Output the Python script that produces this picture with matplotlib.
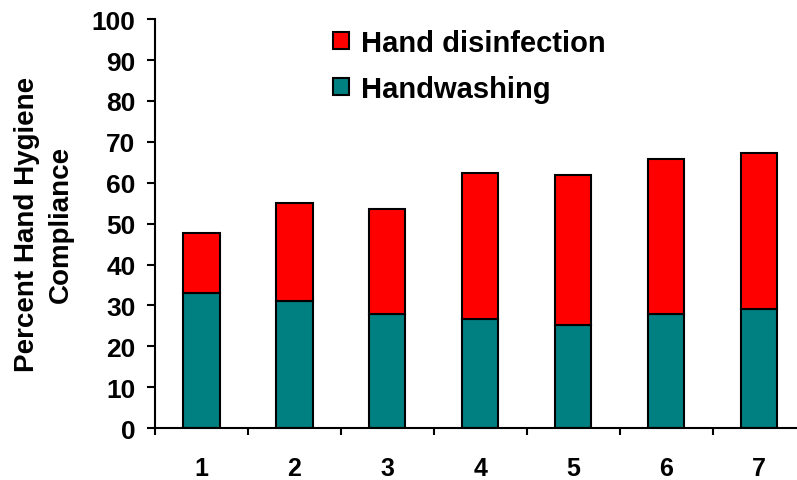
import numpy as np
import matplotlib
matplotlib.use('Agg')
from matplotlib import pyplot as plt

plt.rcParams['font.family'] = ['Liberation Sans', 'DejaVu Sans']

periods = [1, 2, 3, 4, 5, 6, 7]
handwashing = [33.0, 31.0, 28.0, 26.6, 25.2, 28.0, 29.1]
total = [47.7, 55.0, 53.5, 62.3, 61.9, 65.8, 67.2]
disinfection = [t - w for t, w in zip(total, handwashing)]

fig = plt.figure(figsize=(7.97, 4.81), dpi=100)
ax = fig.add_axes([0.1945, 0.108, 0.8045, 0.85])

x = np.array(periods)
ax.bar(x, handwashing, width=0.39, color='#008080', edgecolor='black', linewidth=1.5,
       label='Handwashing')
ax.bar(x, disinfection, width=0.39, bottom=handwashing, color='#ff0000',
       edgecolor='black', linewidth=1.5, label='Hand disinfection')

ax.set_ylim(0, 100)
ax.set_xlim(0.5, 7.4)
ax.set_yticks(range(0, 101, 10))
ax.set_xticks(x)
ax.set_xticks(np.arange(0.5, 7.5, 1), minor=True)
ax.tick_params(axis='x', which='major', length=0, pad=20, labelsize=18)
ax.tick_params(axis='x', which='minor', length=5, width=1.5, direction='out')
ax.tick_params(axis='y', length=6, width=1.5, direction='out', pad=8, labelsize=19)
for lbl in ax.get_xticklabels() + ax.get_yticklabels():
    lbl.set_fontweight('bold')

ax.spines['top'].set_visible(False)
ax.spines['right'].set_visible(False)
ax.spines['left'].set_linewidth(1.5)
ax.spines['bottom'].set_linewidth(1.5)

ax.set_ylabel('Percent Hand Hygiene\nCompliance', fontsize=20, fontweight='bold',
              labelpad=13, linespacing=1.4)

handles, labels = ax.get_legend_handles_labels()
ax.legend(handles[::-1], labels[::-1], loc='upper left', bbox_to_anchor=(0.418, 0.938),
          bbox_transform=fig.transFigure, borderpad=0, borderaxespad=0,
          frameon=False, prop={'size': 21, 'weight': 'bold'}, handlelength=0.55,
          handleheight=0.55, handletextpad=0.4, labelspacing=0.62)

plt.savefig('out.png', dpi=100)
